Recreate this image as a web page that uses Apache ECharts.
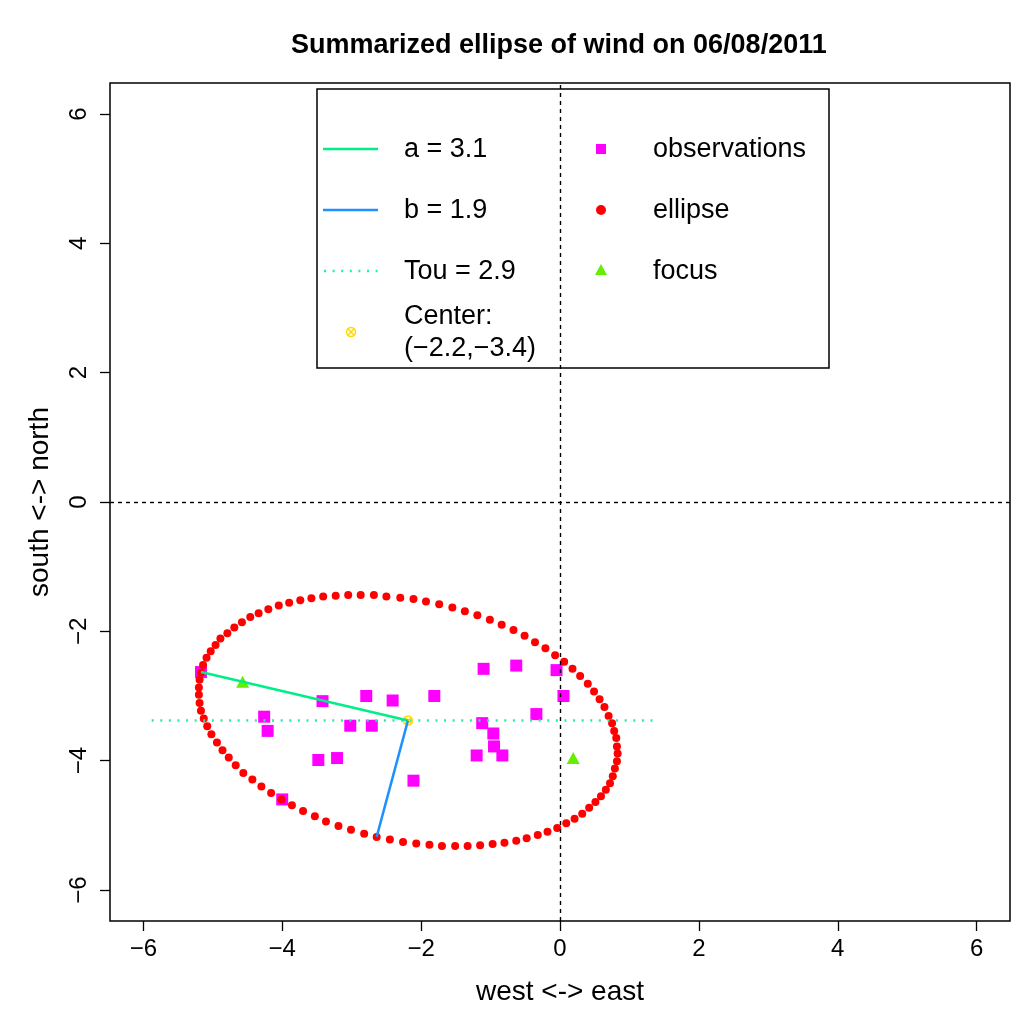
<!DOCTYPE html>
<html>
<head>
<meta charset="utf-8">
<title>Summarized ellipse of wind</title>
<script src="https://cdn.jsdelivr.net/npm/echarts@6/dist/echarts.min.js"></script>
<style>
  html, body { margin: 0; padding: 0; background: #fff; }
  #chart { width: 1024px; height: 1024px; }
</style>
</head>
<body>
<div id="chart"></div>
<script>
// observations (west-east, south-north)
var obsX = [-5.17, -3.42, -2.79, -2.41, -1.81, -4.26, -4.21, -3.02, -2.71, -3.48, -3.21, -2.11,
            -4.00, -1.10, -0.63, -0.05, 0.05, -0.34, -1.12, -0.96, -0.95, -1.20, -0.83];
var obsY = [-2.63, -3.08, -3.00, -3.07, -3.00, -3.32, -3.54, -3.46, -3.46, -3.99, -3.96, -4.31,
            -4.60, -2.58, -2.53, -2.60, -3.00, -3.28, -3.42, -3.58, -3.78, -3.92, -3.92];

// ellipse dots
var ellX = [-5.17, -5.14, -5.09, -5.03, -4.96, -4.89, -4.79, -4.69, -4.58, -4.46,
            -4.34, -4.20, -4.05, -3.90, -3.74, -3.58, -3.41, -3.23, -3.05, -2.87,
            -2.68, -2.50, -2.30, -2.11, -1.93, -1.74, -1.55, -1.37, -1.19, -1.01,
            -0.84, -0.67, -0.51, -0.36, -0.21, -0.07, 0.06, 0.18, 0.29, 0.40,
            0.49, 0.57, 0.64, 0.70, 0.75, 0.78, 0.81, 0.82, 0.83, 0.82,
            0.79, 0.76, 0.72, 0.66, 0.59, 0.51, 0.42, 0.32, 0.21, 0.09,
            -0.04, -0.18, -0.32, -0.48, -0.63, -0.80, -0.97, -1.15, -1.33, -1.51,
            -1.70, -1.88, -2.07, -2.26, -2.45, -2.64, -2.82, -3.01, -3.19, -3.37,
            -3.53, -3.70, -3.86, -4.01, -4.16, -4.30, -4.43, -4.56, -4.67, -4.77,
            -4.86, -4.94, -5.02, -5.08, -5.13, -5.17, -5.19, -5.20, -5.20, -5.19];
var ellY = [-2.64, -2.52, -2.41, -2.31, -2.21, -2.11, -2.03, -1.94, -1.86, -1.78,
            -1.72, -1.66, -1.60, -1.56, -1.52, -1.49, -1.46, -1.45, -1.44, -1.44,
            -1.44, -1.46, -1.48, -1.50, -1.54, -1.58, -1.63, -1.69, -1.75, -1.82,
            -1.90, -1.98, -2.07, -2.17, -2.26, -2.37, -2.47, -2.58, -2.69, -2.81,
            -2.93, -3.05, -3.17, -3.31, -3.42, -3.54, -3.65, -3.78, -3.89, -4.01,
            -4.12, -4.24, -4.35, -4.45, -4.55, -4.64, -4.73, -4.82, -4.90, -4.97,
            -5.04, -5.10, -5.15, -5.20, -5.24, -5.27, -5.29, -5.31, -5.32, -5.32,
            -5.32, -5.30, -5.28, -5.26, -5.22, -5.18, -5.13, -5.07, -5.01, -4.94,
            -4.86, -4.78, -4.69, -4.60, -4.50, -4.40, -4.29, -4.19, -4.07, -3.95,
            -3.84, -3.72, -3.59, -3.47, -3.35, -3.23, -3.11, -2.98, -2.87, -2.75];

var focusX = [-4.57, 0.19];
var focusY = [-2.78, -3.96];
var center = [-2.19, -3.38];
var aEnd = [-5.17, -2.63];
var bEnd = [-2.64, -5.18];
var touX = [-5.88, 1.41];

var ticks = [-6, -4, -2, 0, 2, 4, 6];
var axisMin = -6.48, axisMax = 6.48;

var FONT = '"Liberation Sans", Arial, Helvetica, sans-serif';
var colA = '#00EE8A', colB = '#1E90FF', colTou = '#22F0A8';
var colObs = '#FF00FF', colEll = '#FF0000', colFocus = '#66EE00', colCenter = '#FFD700';
var centerSymbol = 'path://M10,0A10,10 0 1,1 9.99,0Z M2.9,2.9L17.1,17.1M17.1,2.9L2.9,17.1';

function pairs(xs, ys) {
    return xs.map(function (x, i) { return [x, ys[i]]; });
}
function minus(v) {
    return String(v).replace('-', '\u2212');
}

function axisOpt(name, isY) {
    return {
        type: 'value',
        min: axisMin,
        max: axisMax,
        name: name,
        nameLocation: 'middle',
        nameGap: isY ? 56 : 57,
        nameRotate: isY ? 90 : 0,
        nameTextStyle: { fontSize: 28, color: '#000', fontFamily: FONT },
        axisLine: { show: false, onZero: false },
        splitLine: { show: false },
        axisTick: {
            show: true, inside: false, length: 10, customValues: ticks,
            lineStyle: { color: '#000', width: 1.3 }
        },
        axisLabel: {
            show: true, customValues: ticks, fontSize: 24, color: '#000',
            fontFamily: FONT, margin: isY ? 19 : 16, rotate: isY ? 90 : 0,
            formatter: minus
        }
    };
}

// legend drawn as a box like R's legend()
var lx = 317, ly = 89;
var LF = '27px ' + FONT;
var legendItems = [
    { type: 'rect', shape: { x: lx, y: ly, width: 512, height: 279 },
      style: { fill: '#fff', stroke: '#000', lineWidth: 1.5 } },
    { type: 'line', shape: { x1: 323, y1: 149, x2: 378, y2: 149 }, style: { stroke: colA, lineWidth: 2.5 } },
    { type: 'line', shape: { x1: 323, y1: 210, x2: 378, y2: 210 }, style: { stroke: colB, lineWidth: 2.5 } },
    { type: 'line', shape: { x1: 324, y1: 271, x2: 378, y2: 271 },
      style: { stroke: colTou, lineWidth: 2.5, lineDash: [2, 6.6] } },
    { type: 'text', x: 404, y: 150, style: { text: 'a = 3.1', font: LF, fill: '#000', verticalAlign: 'middle' } },
    { type: 'text', x: 404, y: 211, style: { text: 'b = 1.9', font: LF, fill: '#000', verticalAlign: 'middle' } },
    { type: 'text', x: 404, y: 272, style: { text: 'Tou = 2.9', font: LF, fill: '#000', verticalAlign: 'middle' } },
    { type: 'text', x: 404, y: 317, style: { text: 'Center:', font: LF, fill: '#000', verticalAlign: 'middle' } },
    { type: 'text', x: 404, y: 349, style: { text: '(\u22122.2,\u22123.4)', font: LF, fill: '#000', verticalAlign: 'middle' } },
    { type: 'circle', shape: { cx: 351, cy: 332, r: 4.5 }, style: { fill: 'none', stroke: colCenter, lineWidth: 1.5 } },
    { type: 'line', shape: { x1: 347.8, y1: 328.8, x2: 354.2, y2: 335.2 }, style: { stroke: colCenter, lineWidth: 1.5 } },
    { type: 'line', shape: { x1: 354.2, y1: 328.8, x2: 347.8, y2: 335.2 }, style: { stroke: colCenter, lineWidth: 1.5 } },
    { type: 'rect', shape: { x: 596, y: 144, width: 10, height: 10 }, style: { fill: colObs } },
    { type: 'circle', shape: { cx: 601, cy: 210, r: 5 }, style: { fill: colEll } },
    { type: 'polygon', shape: { points: [[601, 264], [607, 275], [595, 275]] }, style: { fill: colFocus } },
    { type: 'text', x: 653, y: 150, style: { text: 'observations', font: LF, fill: '#000', verticalAlign: 'middle' } },
    { type: 'text', x: 653, y: 211, style: { text: 'ellipse', font: LF, fill: '#000', verticalAlign: 'middle' } },
    { type: 'text', x: 653, y: 272, style: { text: 'focus', font: LF, fill: '#000', verticalAlign: 'middle' } }
];

var option = {
    animation: false,
    backgroundColor: '#fff',
    textStyle: { fontFamily: FONT },
    title: {
        text: 'Summarized ellipse of wind on 06/08/2011',
        left: 286,
        top: 27,
        textStyle: { fontSize: 27, fontWeight: 'bold', color: '#000', fontFamily: FONT }
    },
    grid: {
        left: 110, right: 14, top: 83, bottom: 103,
        show: true, borderColor: '#000', borderWidth: 1.5,
        containLabel: false, outerBoundsMode: 'none'
    },
    xAxis: axisOpt('west <-> east', false),
    yAxis: axisOpt('south <-> north', true),
    graphic: legendItems,
    series: [
        {
            name: 'observations', type: 'scatter', symbol: 'rect', symbolSize: 12,
            itemStyle: { color: colObs, opacity: 1 },
            data: pairs(obsX, obsY),
            markLine: {
                silent: true, symbol: 'none', label: { show: false },
                lineStyle: { color: '#000', type: [4, 4], width: 1.4 },
                data: [{ xAxis: 0 }, { yAxis: 0 }]
            }
        },
        {
            name: 'ellipse', type: 'scatter', symbol: 'circle', symbolSize: 8,
            itemStyle: { color: colEll, opacity: 1 },
            data: pairs(ellX, ellY)
        },
        {
            name: 'Tou', type: 'line', symbol: 'none',
            lineStyle: { color: colTou, width: 2.5, type: [2, 6.6] },
            data: [[touX[0], center[1]], [touX[1], center[1]]]
        },
        {
            name: 'a', type: 'line', symbol: 'none',
            lineStyle: { color: colA, width: 2.5 },
            data: [center, aEnd]
        },
        {
            name: 'b', type: 'line', symbol: 'none',
            lineStyle: { color: colB, width: 2.5 },
            data: [center, bEnd]
        },
        {
            name: 'focus', type: 'scatter', symbol: 'triangle', symbolSize: [13, 12],
            itemStyle: { color: colFocus, opacity: 1 },
            data: pairs(focusX, focusY)
        },
        {
            name: 'center', type: 'scatter', symbol: centerSymbol, symbolSize: 9,
            itemStyle: { color: 'none', borderColor: colCenter, borderWidth: 1.5, opacity: 1 },
            data: [center]
        }
    ]
};

var chart = echarts.init(document.getElementById('chart'));
chart.setOption(option);
</script>
</body>
</html>
